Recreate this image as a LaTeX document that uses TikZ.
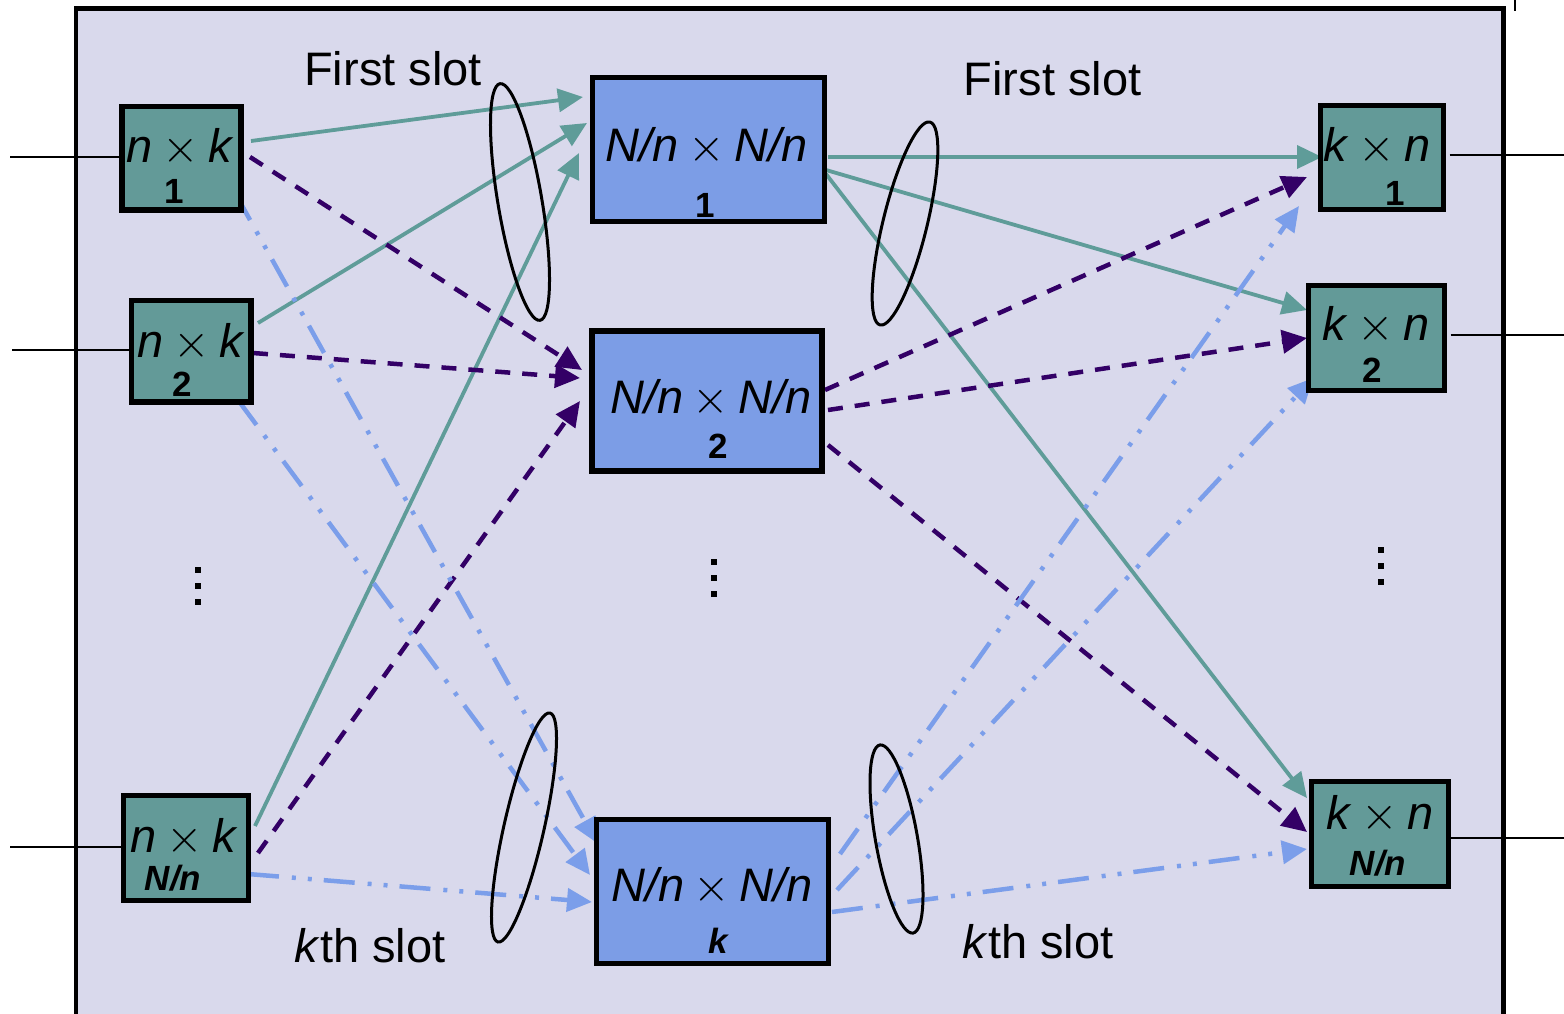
\documentclass[tikz,border=0pt]{standalone}
\usepackage{fontspec}
\setmainfont{Liberation Sans}
\newfontfamily\lmfont{lmroman10-regular.otf}
\usetikzlibrary{arrows.meta,calc}
\definecolor{bgc}{HTML}{D9D9EC}
\definecolor{tealbox}{HTML}{639A98}
\definecolor{tealline}{HTML}{5F9C99}
\definecolor{bluebox}{HTML}{7C9DE6}
\definecolor{blueline}{HTML}{7B9EEA}
\definecolor{purp}{HTML}{330066}
\pgfdeclarelayer{back}
\pgfdeclarelayer{mid}
\pgfsetlayers{back,mid,main}
\newcommand{\tms}{\hspace{0.2em}{\lmfont ×}\hspace{0.2em}}
\begin{document}
\begin{tikzpicture}[x=1pt,y=-1pt,
 box/.style={draw=black,line width=5.5pt,inner sep=0pt,outer sep=0pt},
 sidebox/.style={box,fill=tealbox},
 midbox/.style={box,fill=bluebox},
 big/.style={font=\fontsize{47}{56}\selectfont,anchor=base,inner sep=0pt},
 tag/.style={font=\fontsize{35}{40}\selectfont\bfseries,anchor=base,inner sep=0pt},
 tagn/.style={font=\fontsize{35}{40}\selectfont\bfseries\itshape,anchor=base,inner sep=0pt},
 tip/.style={-{Triangle[length=25pt,width=23pt]}},
 tealc/.style={tip,draw=tealline,line width=3.8pt},
 purpc/.style={tip,draw=purp,line width=4.5pt,dash pattern=on 15pt off 12pt},
 bluec/.style={tip,draw=blueline,line width=4.5pt,dash pattern=on 31pt off 13pt on 4pt off 12pt on 4pt off 12pt},
 wire/.style={draw=black,line width=2.5pt},
 loop/.style={draw=black,line width=3pt},
]
\useasboundingbox (0,0) rectangle (1564,1014);
\begin{pgfonlayer}{back}
\draw[fill=bgc,line width=4.5pt] (76,8.5) rectangle (1503.5,1040);
\draw[line width=1.5pt] (1515,0) -- (1515,11);
\end{pgfonlayer}

% boxes
\node[sidebox,minimum width=119pt,minimum height=103.5pt] (L1) at (181.5,158.25) {};
\node[sidebox,minimum width=119.5pt,minimum height=101.5pt] (L2) at (191.25,351.25) {};
\node[sidebox,minimum width=125pt,minimum height=105pt] (LN) at (186,848) {};
\node[midbox,minimum width=232pt,minimum height=144pt] (M1) at (708.5,149.5) {};
\node[midbox,minimum width=230pt,minimum height=140pt] (M2) at (707,401) {};
\node[midbox,minimum width=232pt,minimum height=144pt] (Mk) at (712.5,891.5) {};
\node[sidebox,minimum width=123pt,minimum height=104pt] (R1) at (1382,157.5) {};
\node[sidebox,minimum width=136pt,minimum height=105pt] (R2) at (1376.5,338) {};
\node[sidebox,minimum width=137pt,minimum height=105pt] (RN) at (1380,834) {};

% box texts
\node[big] (tL1) at (180,163) {\textit{n}\tms\textit{k}};
\node[tag] (nL1) at (174,204) {1};
\node[big] (tL2) at (191,357) {\textit{n}\tms\textit{k}};
\node[tag] (nL2) at (182,396) {2};
\node[big] (tLN) at (184,852) {\textit{n}\tms\textit{k}};
\node[tagn] (nLN) at (173,890) {N/n};
\node[big] (tM1) at (706.5,162) {\textit{N/n}\tms\textit{N/n}};
\node[tag] (nM1) at (705,217) {1};
\node[big] (tM2) at (711,413) {\textit{N/n}\tms\textit{N/n}};
\node[tag] (nM2) at (718,458) {2};
\node[big] (tMk) at (712,901) {\textit{N/n}\tms\textit{N/n}};
\node[tagn] (nMk) at (718,953) {k};
\node[big] (tR1) at (1377,162) {\textit{k}\tms\textit{n}};
\node[tag] (nR1) at (1395,205) {1};
\node[big] (tR2) at (1376,340) {\textit{k}\tms\textit{n}};
\node[tag] (nR2) at (1372,382) {2};
\node[big] (tRN) at (1380,829) {\textit{k}\tms\textit{n}};
\node[tagn] (nRN) at (1378,875) {N/n};

% slot labels
\node[big] (fs1) at (393,86) {First slot};
\node[big] (fs2) at (1052.5,96) {First slot};
\node[big] (ks1) at (370,962) {\textit{k}th slot};
\node[big] (ks2) at (1038,958) {\textit{k}th slot};

% wires
\coordinate (in1) at (10,157);
\coordinate (in2) at (12,350);
\coordinate (in3) at (10,847);
\coordinate (out1) at (1564,155);
\coordinate (out2) at (1564,335);
\coordinate (out3) at (1564,838);
\begin{pgfonlayer}{mid}
\draw[wire] (in1) -- (in1 -| L1.west);
\draw[wire] (in2) -- (in2 -| L2.west);
\draw[wire] (in3) -- (in3 -| LN.west);
\draw[wire] ([xshift=6pt]out1 -| R1.east) -- (out1);
\draw[wire] ([xshift=6pt]out2 -| R2.east) -- (out2);
\draw[wire] (out3 -| RN.east) -- (out3);

% first stage
\draw[tealc] ($(L1.east)+(10,-17.25)$) -- ($(M1.west)+(-9.5,-52.5)$);
\draw[tealc] ($(L2.east)+(7,-28.25)$) -- ($(M1.west)+(-5.5,-26.5)$);
\draw[tealc] ($(LN.east)+(6.5,-22)$) -- ($(M1.west)+(-13.5,3.5)$);
\draw[purpc] ($(L1.east)+(9,-1.25)$) -- ($(M2.west)+(-10,-31)$);
\draw[purpc] ($(L2.east)+(2,1.75)$) -- ($(M2.west)+(-12,-23)$);
\draw[purpc] ($(LN.east)+(9.5,5)$) -- ($(M2.west)+(-12,0)$);
\draw[bluec] ($(L1.east)+(-6,34.75)$) -- ($(Mk.west)+(0.5,-48.5)$);
\draw[bluec] ($(L2.east)+(-13,48.75)$) -- ($(Mk.west)+(-6.5,-16.5)$);
\draw[bluec] ($(LN.east)+(-0.5,26)$) -- ($(Mk.west)+(-4.5,10.5)$);

% second stage
\draw[tealc] ($(M1.east)+(3.5,7.5)$) -- ($(R1.west)+(1.5,-0.5)$);
\draw[tealc] ($(M1.east)+(1.5,20.5)$) -- ($(R2.west)+(-1.5,-28)$);
\draw[tealc] ($(M1.east)+(1.5,24.5)$) -- ($(RN.west)+(-4.5,-36)$);
\draw[purpc] ($(M2.east)+(3,-11)$) -- ($(R1.west)+(-13.5,19.5)$);
\draw[purpc] ($(M2.east)+(6,9)$) -- ($(R2.west)+(-1.5,0)$);
\draw[purpc] ($(M2.east)+(6,44)$) -- ($(RN.west)+(-4.5,-2)$);
\draw[bluec] ($(Mk.east)+(11.5,-37.5)$) -- ($(R1.west)+(-21.5,48.5)$);
\draw[bluec] ($(Mk.east)+(8.5,-1.5)$) -- ($(R2.west)+(4.5,40)$);
\draw[bluec] ($(Mk.east)+(3.5,20.5)$) -- ($(RN.west)+(-4.5,15)$);
\end{pgfonlayer}

% slot ellipses
\draw[loop,rotate around={9.6:(520,202)}] (520,202) ellipse [x radius=22pt,y radius=120pt];
\draw[loop,rotate around={-13.8:(905,223.5)}] (905,223.5) ellipse [x radius=22pt,y radius=104.5pt];
\draw[loop,rotate around={-12.8:(524,827.5)}] (524,827.5) ellipse [x radius=20pt,y radius=117.4pt];
\draw[loop,rotate around={10:(896.5,839)}] (896.5,839) ellipse [x radius=21pt,y radius=95.5pt];

% vertical dots
\foreach \yy in {570,586,602} {\fill (195,\yy-3) rectangle (201,\yy+3);}
\foreach \yy in {562,578,594} {\fill (711,\yy-3) rectangle (717,\yy+3);}
\foreach \yy in {550,566,582} {\fill (1378,\yy-3) rectangle (1384,\yy+3);}
\end{tikzpicture}
\end{document}
